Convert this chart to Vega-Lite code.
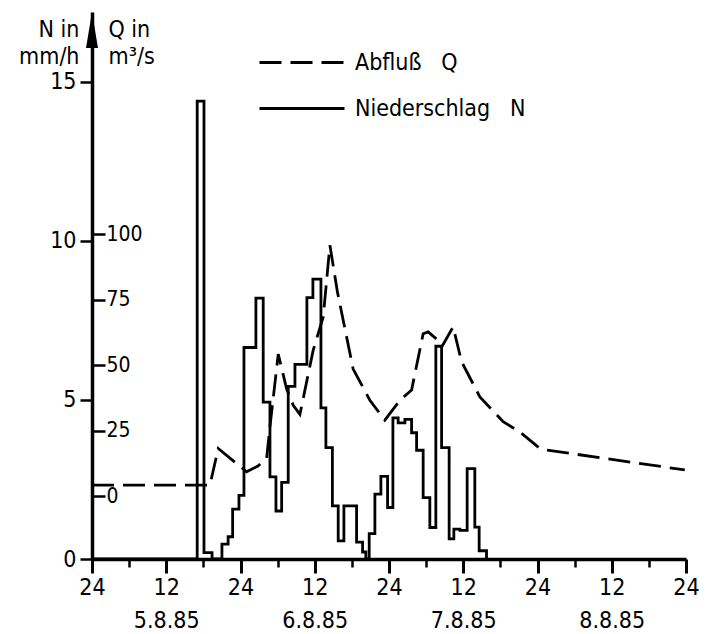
{
  "$schema": "https://vega.github.io/schema/vega-lite/v6.json",
  "width": 594,
  "height": 547,
  "autosize": {"type": "none"},
  "padding": {"left": 92, "top": 12, "right": 20, "bottom": 75},
  "background": "white",
  "config": {
    "view": {"stroke": null},
    "axis": {"labelFont": "DejaVu Sans Condensed", "titleFont": "DejaVu Sans Condensed", "labelColor": "black", "titleColor": "black", "domainColor": "black", "tickColor": "black", "grid": false, "labelFontWeight": "normal", "titleFontWeight": "normal"},
    "legend": {"labelFont": "DejaVu Sans Condensed", "labelColor": "black", "labelLimit": 400}
  },
  "layer": [
    {
      "data": {"values": [
        {"h": 0, "Q": 4.2}, {"h": 19.06, "Q": 4.2}, {"h": 20.4, "Q": 18.2}, {"h": 24.99, "Q": 9.3},
        {"h": 26.82, "Q": 11.5}, {"h": 28.22, "Q": 14.4}, {"h": 28.76, "Q": 26.5}, {"h": 30.1, "Q": 54.2},
        {"h": 31.45, "Q": 41.0}, {"h": 32.52, "Q": 34.7}, {"h": 33.6, "Q": 31.2}, {"h": 35.75, "Q": 55.7},
        {"h": 37.37, "Q": 68.4}, {"h": 38.45, "Q": 95.8}, {"h": 39.66, "Q": 78}, {"h": 42.21, "Q": 48.5},
        {"h": 44.91, "Q": 36.6}, {"h": 47.33, "Q": 29}, {"h": 49.76, "Q": 36.6}, {"h": 51.65, "Q": 40.5},
        {"h": 53.52, "Q": 62}, {"h": 54.33, "Q": 62.7}, {"h": 55.9, "Q": 59.5}, {"h": 56.54, "Q": 57},
        {"h": 58.37, "Q": 64.6}, {"h": 59.73, "Q": 51.3}, {"h": 62.68, "Q": 37.9}, {"h": 66.45, "Q": 28.4},
        {"h": 69.14, "Q": 24.5}, {"h": 72.37, "Q": 18.2}, {"h": 73.46, "Q": 17.6}, {"h": 95.8, "Q": 10.0}
      ]},
      "mark": {"type": "line", "color": "black", "strokeWidth": 2.8, "interpolate": "linear"},
      "encoding": {
        "x": {"field": "h", "type": "quantitative", "scale": {"domain": [0, 96], "nice": false, "zero": false},
          "axis": {"orient": "bottom", "values": [0, 12, 24, 36, 48, 60, 72, 84, 96], "labelExpr": "datum.value % 24 == 0 ? '24' : '12'", "tickSize": 14, "tickWidth": 3, "domainWidth": 3.5, "labelFontSize": 23, "labelPadding": 3, "labelFlush": false, "labelOverlap": false, "title": null}},
        "y": {"field": "Q", "type": "quantitative", "scale": {"domain": [-24, 184.8], "nice": false, "zero": false},
          "axis": {"orient": "right", "offset": -594, "values": [0, 25, 50, 75, 100], "domain": false, "tickSize": 13, "tickWidth": 2.5, "labelFontSize": 21, "labelPadding": 1, "labelFlush": false, "labelOverlap": false,
            "title": ["Q in", "m³/s"], "titleAngle": 0, "titleAlign": "left", "titleBaseline": "alphabetic", "titleX": 16, "titleY": 24, "titleFontSize": 23, "titleLineHeight": 27}},
        "strokeDash": {"datum": "Abfluß\u00a0\u00a0\u00a0Q", "scale": {"range": [[22, 9]]},
          "legend": {"orient": "none", "legendX": 166, "legendY": 6.5, "title": null, "symbolType": "stroke", "symbolSize": 7225, "symbolStrokeWidth": 2.8, "symbolStrokeColor": "black", "labelFontSize": 23, "labelOffset": 9, "padding": 0}}
      }
    },
    {
      "data": {"values": [
        {"h": 0, "N": 0}, {"h": 17.0, "N": 14.4}, {"h": 18.1, "N": 0.2}, {"h": 19.4, "N": 0},
        {"h": 21.0, "N": 0.47}, {"h": 22.0, "N": 0.7}, {"h": 22.73, "N": 1.57}, {"h": 23.75, "N": 2.0},
        {"h": 24.56, "N": 6.65}, {"h": 26.49, "N": 8.2}, {"h": 27.67, "N": 4.93}, {"h": 28.76, "N": 2.58},
        {"h": 29.73, "N": 1.51}, {"h": 30.65, "N": 2.41}, {"h": 31.71, "N": 5.43}, {"h": 32.8, "N": 6.12},
        {"h": 34.73, "N": 8.22}, {"h": 35.7, "N": 8.8}, {"h": 37.0, "N": 4.75}, {"h": 37.8, "N": 3.5},
        {"h": 38.85, "N": 1.67}, {"h": 39.79, "N": 0.57}, {"h": 40.71, "N": 1.67}, {"h": 42.76, "N": 0.53},
        {"h": 43.73, "N": 0.22}, {"h": 44.26, "N": 0}, {"h": 44.8, "N": 0.8}, {"h": 45.72, "N": 2.04},
        {"h": 46.69, "N": 2.6}, {"h": 47.77, "N": 1.62}, {"h": 48.63, "N": 4.44}, {"h": 49.48, "N": 4.28},
        {"h": 50.57, "N": 4.39}, {"h": 51.65, "N": 3.97}, {"h": 52.46, "N": 3.42}, {"h": 53.52, "N": 1.93},
        {"h": 54.6, "N": 0.99}, {"h": 55.57, "N": 6.69}, {"h": 56.5, "N": 3.5}, {"h": 57.72, "N": 0.63},
        {"h": 58.48, "N": 0.94}, {"h": 59.45, "N": 0.9}, {"h": 60.63, "N": 2.84}, {"h": 61.87, "N": 1.0},
        {"h": 62.57, "N": 0.26}, {"h": 63.76, "N": 0}
      ]},
      "mark": {"type": "line", "strokeWidth": 2.8, "interpolate": "step-after"},
      "encoding": {
        "x": {"field": "h", "type": "quantitative",
          "axis": {"orient": "bottom", "values": [6, 18, 30, 42, 54, 66, 78, 90], "labels": false, "domain": false, "tickSize": 8, "tickWidth": 2.5, "title": null}},
        "y": {"field": "N", "type": "quantitative", "scale": {"domain": [0, 17.2], "nice": false},
          "axis": {"orient": "left", "values": [0, 5, 10, 15], "tickSize": 12, "tickWidth": 2.5, "domainWidth": 3.5, "labelFontSize": 23, "labelPadding": 4, "labelFlush": false, "labelOverlap": false,
            "title": ["N in", "mm/h"], "titleAngle": 0, "titleAlign": "right", "titleBaseline": "alphabetic", "titleX": -13, "titleY": 24, "titleFontSize": 23, "titleLineHeight": 27}},
        "color": {"datum": "Niederschlag\u00a0\u00a0\u00a0N", "scale": {"range": ["black"]},
          "legend": {"orient": "none", "legendX": 166, "legendY": 52.5, "title": null, "symbolType": "stroke", "symbolSize": 7225, "symbolStrokeWidth": 2.8, "symbolStrokeColor": "black", "labelFontSize": 23, "labelOffset": 9, "padding": 0}}
      }
    },
    {
      "data": {"values": [{}]},
      "mark": {"type": "point", "shape": "M0,0L0.333,2L-0.333,2Z", "filled": true, "color": "black", "opacity": 1, "size": 1296},
      "encoding": {
        "x": {"datum": 0, "type": "quantitative",
          "axis": {"orient": "bottom", "values": [12, 36, 60, 84], "labelExpr": "['5.8.85','6.8.85','7.8.85','8.8.85'][floor(datum.value/24)]", "ticks": false, "tickSize": 0, "domain": false, "labelPadding": 50, "labelFontSize": 23, "labelFlush": false, "labelOverlap": false, "title": null}},
        "y": {"datum": 17.2, "type": "quantitative", "scale": {"domain": [0, 17.2], "nice": false}, "axis": null}
      }
    }
  ],
  "resolve": {"scale": {"y": "independent", "strokeDash": "independent", "color": "independent"}, "axis": {"x": "independent"}}
}
